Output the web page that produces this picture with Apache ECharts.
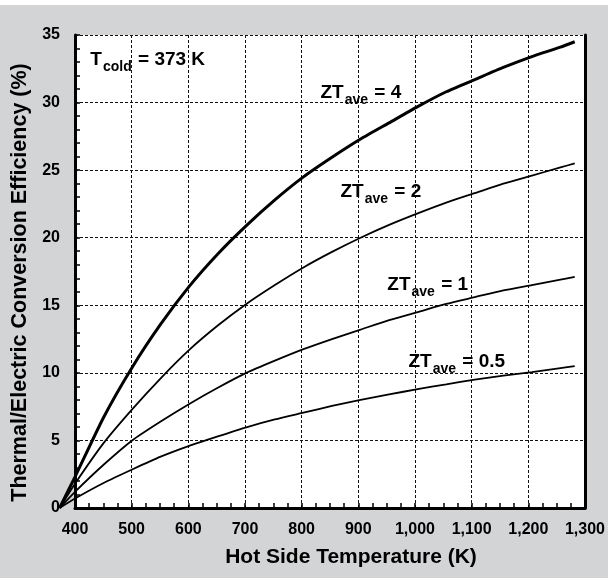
<!DOCTYPE html>
<html>
<head>
<meta charset="utf-8">
<script src="https://cdn.jsdelivr.net/npm/echarts@6/dist/echarts.min.js"></script>
<style>
html,body{margin:0;padding:0;background:#ffffff;}
#c{position:absolute;left:0;top:5px;width:608px;height:573px;background:#d3d4d6;}
</style>
</head>
<body>
<div id="c"></div>
<script>
// Hot side temperature (K)
var temps = [373, 400, 450, 500, 550, 600, 650, 700, 750, 800, 850, 900, 950, 1000, 1050, 1100, 1150, 1200, 1250, 1275];
// Efficiency (%) for each ZT_ave
var zt4  = [0, 2.3, 6.7, 10.4, 13.6, 16.4, 18.8, 20.9, 22.8, 24.5, 25.95, 27.3, 28.5, 29.7, 30.8, 31.7, 32.6, 33.4, 34.1, 34.5];
var zt2  = [0, 1.8, 4.8, 7.3, 9.6, 11.7, 13.5, 15.1, 16.5, 17.8, 18.95, 20.0, 20.95, 21.8, 22.6, 23.3, 24.0, 24.6, 25.2, 25.5];
var zt1  = [0, 1.2, 3.2, 5.0, 6.4, 7.7, 8.9, 10.0, 10.9, 11.75, 12.5, 13.2, 13.9, 14.5, 15.1, 15.6, 16.1, 16.5, 16.9, 17.1];
var zt05 = [0, 0.7, 1.85, 2.85, 3.8, 4.6, 5.3, 5.97, 6.55, 7.05, 7.55, 8.0, 8.4, 8.8, 9.15, 9.5, 9.8, 10.05, 10.35, 10.5];
var xTicks = [400, 500, 600, 700, 800, 900, 1000, 1100, 1200, 1300];
var yTicks = [0, 5, 10, 15, 20, 25, 30, 35];
var seriesNames = ['ZT_ave = 4', 'ZT_ave = 2', 'ZT_ave = 1', 'ZT_ave = 0.5'];
var labelTexts = ['4', '2', '1', '0.5'];

function pairs(arr) { return temps.map(function (t, i) { return [t, arr[i]]; }); }

var FONT = '"Liberation Sans", Arial, sans-serif';
var rich = {
  a: { fontSize: 19, fontWeight: 'bold', fontFamily: FONT, color: '#000' },
  s: { fontSize: 14, fontWeight: 'bold', fontFamily: FONT, color: '#000', padding: [15, 1, 0, 1] }
};
function ztLabel(coord, val) {
  return {
    symbol: 'rect', symbolSize: 1, itemStyle: { color: 'rgba(0,0,0,0)' }, animation: false,
    data: [{
      coord: coord,
      label: { show: true, position: 'right', distance: 0,
        formatter: '{a|ZT}{s|ave}{a| = ' + val + '}', rich: rich }
    }]
  };
}

var dataSets = [zt4, zt2, zt1, zt05];
var widths = [3, 1.8, 1.8, 1.8];
var labelCoords = [[829, 30.7], [864, 23.4], [946, 16.5], [983, 10.8]];

// Plot geometry: axis 400..1300 K spans the visible grid; curves start at T_cold (373 K),
// left of the axis, so they are drawn on an identical hidden scale that extends to 373 K.
var GL = 75, GR = 19, GT = 30, GB = 70, W = 608;
var pxPerK = (W - GL - GR) / (xTicks[xTicks.length - 1] - xTicks[0]);
var tMin = temps[0];
var GL2 = GL - (xTicks[0] - tMin) * pxPerK;

var series = dataSets.map(function (d, i) {
  return {
    name: seriesNames[i], type: 'line', data: pairs(d), showSymbol: false, symbol: 'none',
    xAxisIndex: 1, yAxisIndex: 2,
    smooth: 0.2, clip: false, animation: false, z: 3,
    lineStyle: { color: '#000', width: widths[i] },
    markPoint: ztLabel(labelCoords[i], labelTexts[i])
  };
});
// T_cold annotation
series.push({
  type: 'line', data: [], animation: false, xAxisIndex: 1, yAxisIndex: 2,
  markPoint: {
    symbol: 'rect', symbolSize: 1, itemStyle: { color: 'rgba(0,0,0,0)' },
    data: [{ coord: [426, 33.2], label: { show: true, position: 'right', distance: 0,
      formatter: '{a|T}{s|cold}{a| = 373 K}', rich: rich } }]
  }
});

var dash = { color: '#111', width: 1, type: [3, 2] };
var chart = echarts.init(document.getElementById('c'), null, { renderer: 'canvas' });
chart.setOption({
  animation: false,
  backgroundColor: '#d3d4d6',
  grid: [
    { left: GL, right: GR, top: GT, bottom: GB, show: true, backgroundColor: '#ffffff', borderWidth: 0 },
    { left: GL2, right: GR, top: GT, bottom: GB, show: false }
  ],
  xAxis: [{
    type: 'value', gridIndex: 0, min: xTicks[0], max: xTicks[xTicks.length - 1], interval: 100,
    name: 'Hot Side Temperature (K)', nameLocation: 'middle', nameGap: 39,
    nameTextStyle: { fontSize: 21, fontWeight: 'bold', fontFamily: FONT, color: '#000', padding: [0, 0, 0, 42] },
    axisLine: { show: true, onZero: false, lineStyle: { color: '#000', width: 3 } },
    axisTick: { show: true, inside: true, length: 5, lineStyle: { color: '#000', width: 1.5 } },
    minorTick: { show: true, splitNumber: 4, length: 5, lineStyle: { color: '#000', width: 1.5 } },
    splitLine: { show: true, lineStyle: dash },
    axisLabel: { margin: 14, fontSize: 16, fontWeight: 'bold', fontFamily: FONT, color: '#000',
      formatter: function (v) { return v.toLocaleString('en-US'); } }
  }, {
    type: 'value', gridIndex: 1, min: tMin, max: xTicks[xTicks.length - 1], show: false
  }],
  yAxis: [{
    type: 'value', gridIndex: 0, min: yTicks[0], max: yTicks[yTicks.length - 1], interval: 5,
    name: 'Thermal/Electric Conversion Efficiency (%)', nameLocation: 'middle', nameGap: 44,
    nameTextStyle: { fontSize: 21.5, fontWeight: 'bold', fontFamily: FONT, color: '#000', padding: [0, 22, 0, 0] },
    axisLine: { show: true, onZero: false, lineStyle: { color: '#000', width: 3 } },
    axisTick: { show: true, inside: true, length: 5, lineStyle: { color: '#000', width: 1.5 } },
    minorTick: { show: true, splitNumber: 5, length: 5, lineStyle: { color: '#000', width: 1.5 } },
    splitLine: { show: true, lineStyle: dash },
    axisLabel: { margin: 15, fontSize: 16, fontWeight: 'bold', fontFamily: FONT, color: '#000' }
  }, {
    type: 'value', gridIndex: 0, position: 'right', min: yTicks[0], max: yTicks[yTicks.length - 1], interval: 5,
    axisLine: { show: true, lineStyle: { color: '#000', width: 3 } },
    axisTick: { show: false }, axisLabel: { show: false }, splitLine: { show: false }
  }, {
    type: 'value', gridIndex: 1, min: yTicks[0], max: yTicks[yTicks.length - 1], show: false
  }],
  series: series
});
</script>
</body>
</html>
